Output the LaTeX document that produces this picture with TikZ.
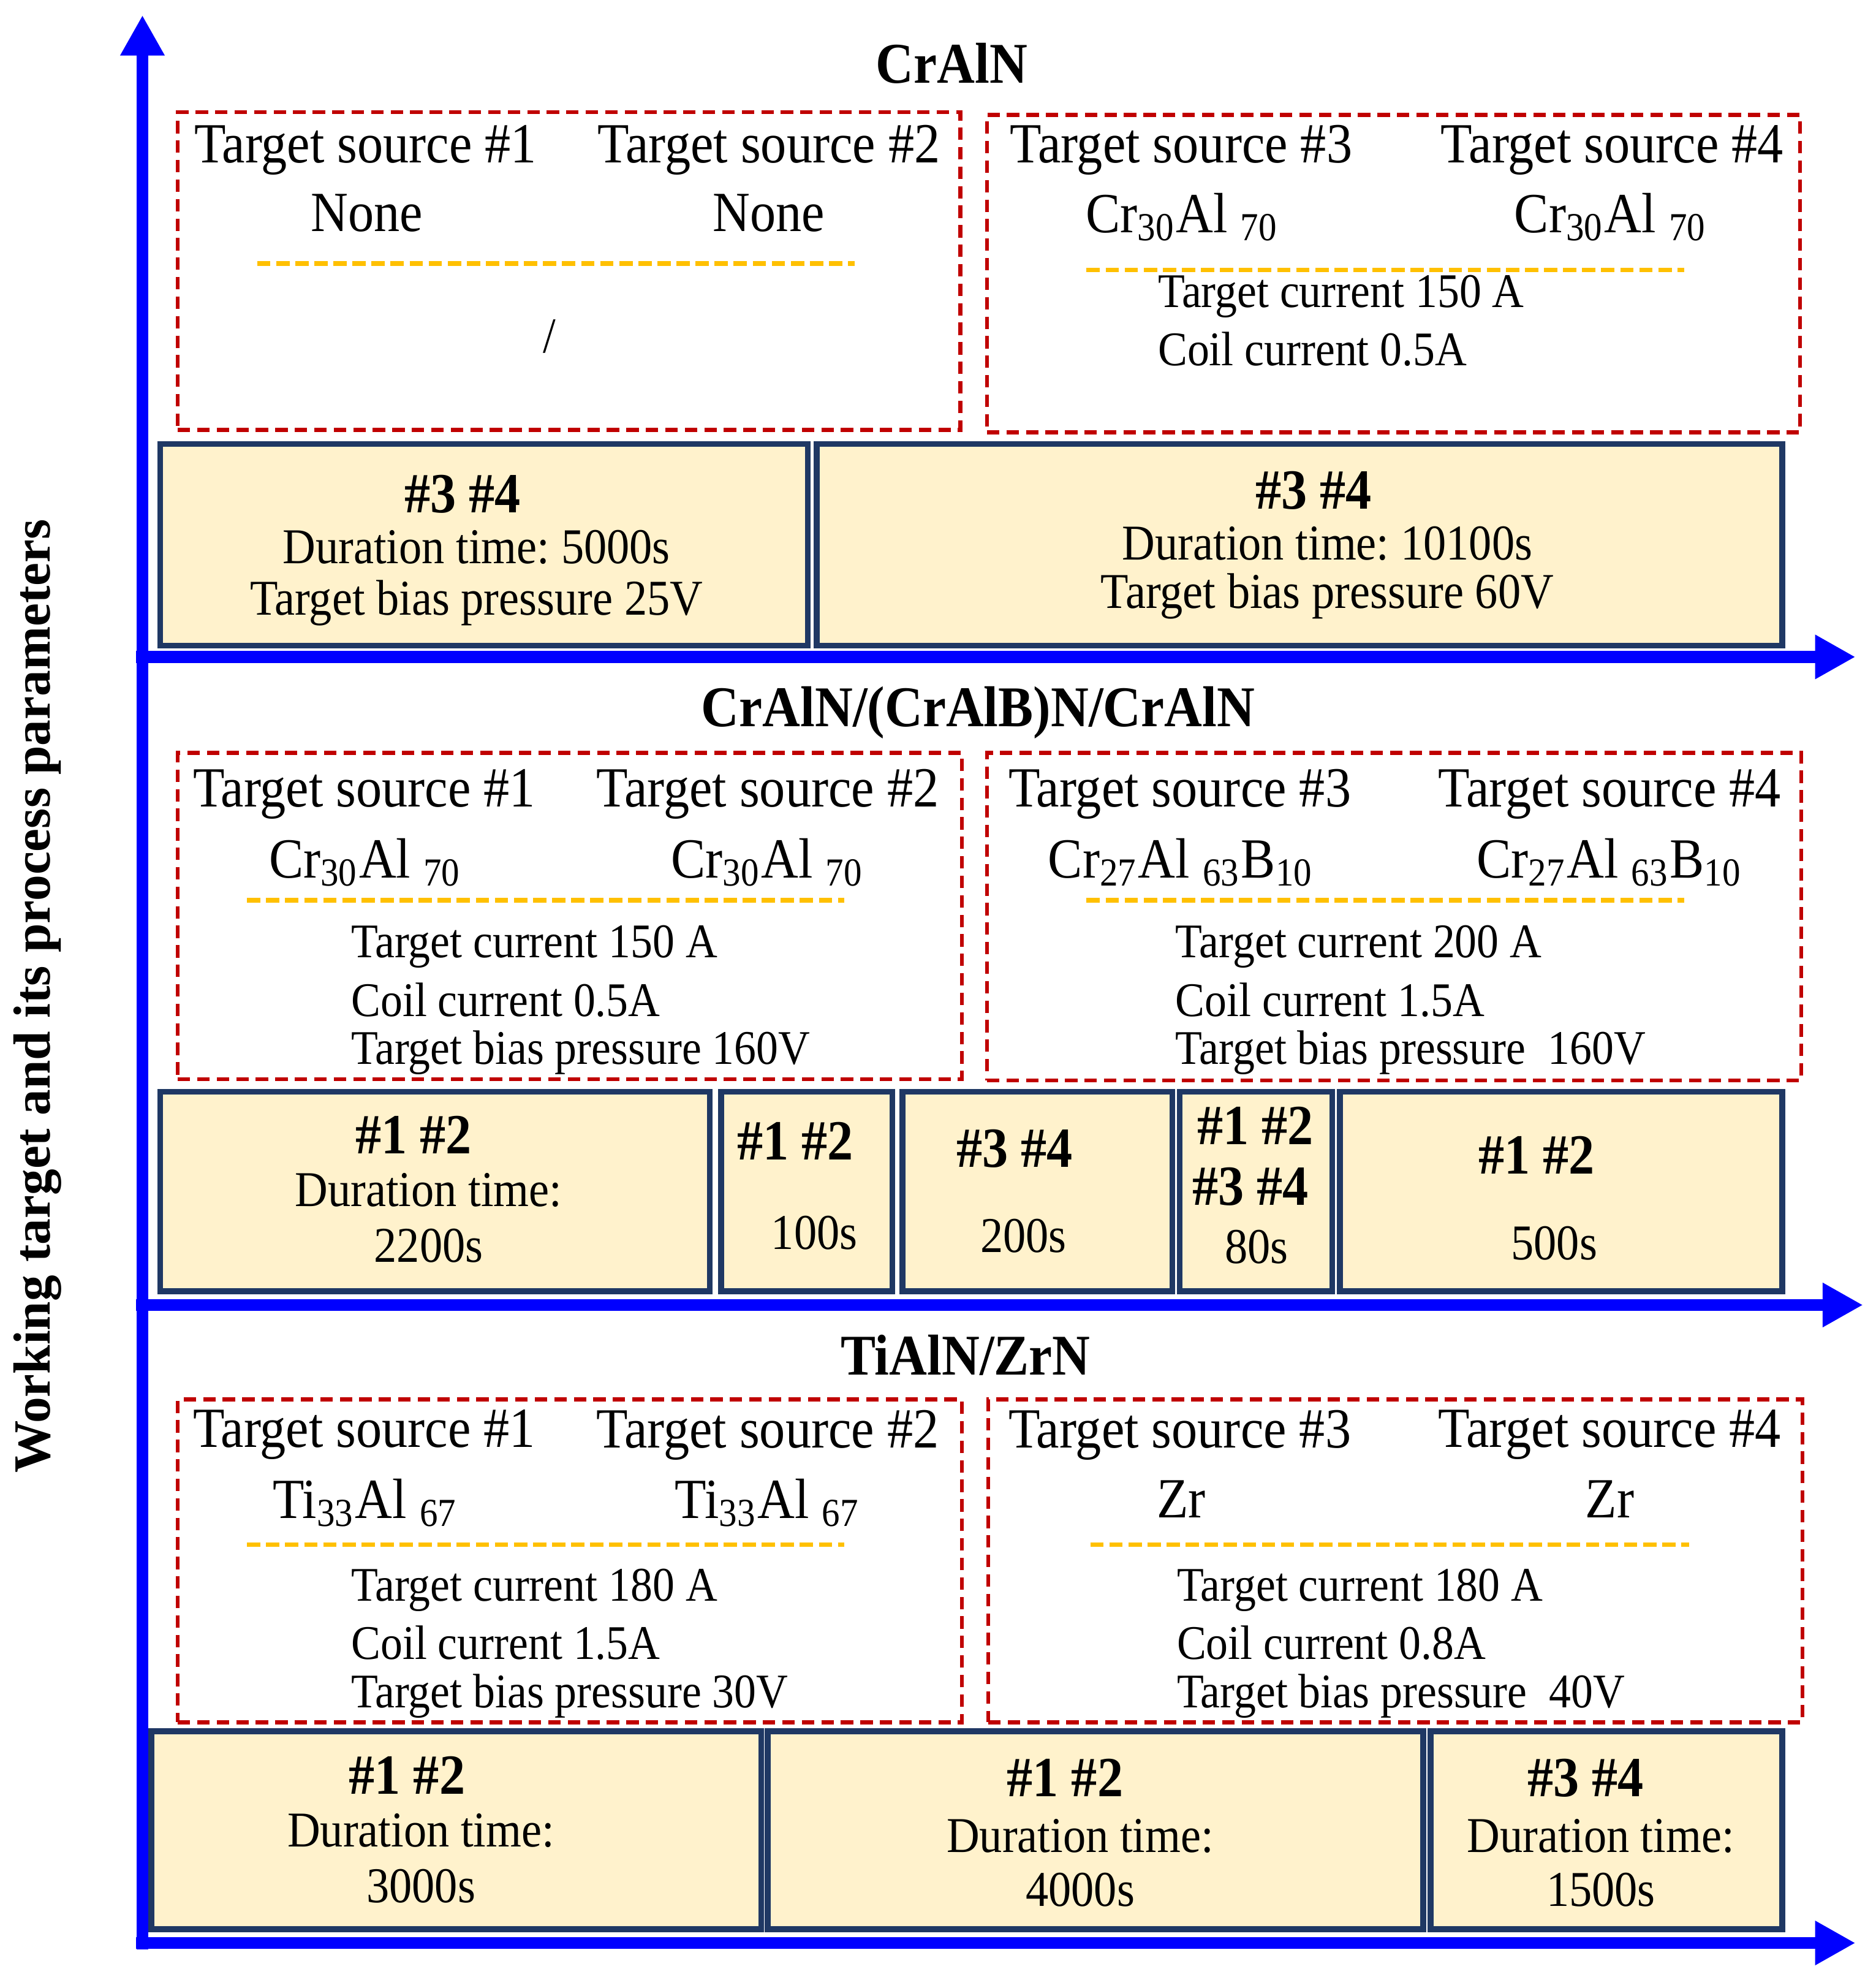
\documentclass[tikz,border=0pt]{standalone}
\usepackage{fontspec}
\setmainfont{Liberation Serif}[FakeStretch=0.91]
\newfontfamily\axislabelfont{Liberation Serif}
\usetikzlibrary{positioning,arrows.meta,fit}
\definecolor{axisblue}{RGB}{0,0,255}
\definecolor{boxred}{RGB}{192,0,0}
\definecolor{lineyellow}{RGB}{255,192,0}
\definecolor{boxfill}{RGB}{255,242,204}
\definecolor{boxedge}{RGB}{31,56,100}
\frenchspacing

\begin{document}
\begin{tikzpicture}[x=0.01cm, y=-0.01cm,
    axis/.style={draw=axisblue, line width=2.7pt, -{Triangle[length=0.32cm, width=0.33cm]}},
    redbox/.style={draw=boxred, line width=0.9pt, dash pattern=on 2.8pt off 1.6pt, inner sep=0pt},
    yelline/.style={draw=lineyellow, line width=1pt, dash pattern=on 3pt off 1.3pt},
    timebox/.style={draw=boxedge, fill=boxfill, line width=1.3pt, inner sep=0pt},
    srctext/.style={font=\fontsize{12.8}{15}\selectfont, inner sep=0pt},
    partext/.style={font=\fontsize{10.9}{13}\selectfont, anchor=west, inner sep=0pt},
    durtext/.style={font=\fontsize{11.3}{13}\selectfont, inner sep=0pt},
    hashtext/.style={font=\fontsize{12.8}{15}\selectfont\bfseries, inner sep=0pt},
    titletext/.style={font=\fontsize{13}{15}\selectfont\bfseries, inner sep=0pt}]
  \useasboundingbox (0,0) rectangle (1488,1568);

  % axis label
  \node[font=\axislabelfont\fontsize{11.8}{14}\selectfont\bfseries, rotate=90, inner sep=0pt]
    (ylabel) at (30,790) {Working target and its process parameters};

  % ---- CrAlN ----
  \node[titletext] (crTitle) at (755,50) {CrAlN};
  \node[redbox, fit={(141,89) (762,341)}] (crSrcL) {};
  \node[redbox, fit={(783,91) (1428,343)}] (crSrcR) {};
  \node[srctext] (crT1) at (290,119) {Target source \#1};
  \node[srctext] (crT2) at (610,119) {Target source \#2};
  \node[srctext] (crM1) at (291,169) {None};
  \node[srctext] (crM2) at (610,169) {None};
  \coordinate (crLineLa) at (204,209);
  \coordinate (crLineLb) at (678,209);
  \draw[yelline] (crLineLa) -- (crLineLb);
  \node[durtext] (crNone) at (436,267) {/};
  \node[srctext] (crT3) at (937,119) {Target source \#3};
  \node[srctext] (crT4) at (1279,119) {Target source \#4};
  \node[srctext] (crM3) at (938,172) {Cr\textsubscript{30}Al \textsubscript{70}};
  \node[srctext] (crM4) at (1278,172) {Cr\textsubscript{30}Al \textsubscript{70}};
  \coordinate (crLineRa) at (862,214);
  \coordinate (crLineRb) at (1336,214);
  \draw[yelline] (crLineRa) -- (crLineRb);
  \node[partext] (crP1) at (918,235) {Target current 150 A};
  \node[partext] (crP2) at (918,277) {Coil current 0.5A};

  \node[timebox, fit={(127,352) (641,512)}] (crTimeA) {};
  \node[timebox, fit={(648,352) (1414,512)}] (crTimeB) {};
  \node[hashtext] (crA1) at (367,392) {\#3 \#4};
  \node[durtext] (crA2) at (378,434) {Duration time: 5000s};
  \node[durtext] (crA3) at (378,478) {Target bias pressure 25V};
  \node[hashtext] (crB1) at (1042,389) {\#3 \#4};
  \node[durtext] (crB2) at (1053,431) {Duration time: 10100s};
  \node[durtext] (crB3) at (1053,473) {Target bias pressure 60V};

  % ---- CrAlN/(CrAlB)N/CrAlN ----
  \node[titletext] (cbTitle) at (776,565) {CrAlN/(CrAlB)N/CrAlN};
  \node[redbox, fit={(141,597) (763,856)}] (cbSrcL) {};
  \node[redbox, fit={(783,597) (1429,857)}] (cbSrcR) {};
  \node[srctext] (cbT1) at (289,630) {Target source \#1};
  \node[srctext] (cbT2) at (609,630) {Target source \#2};
  \node[srctext] (cbM1) at (290,684) {Cr\textsubscript{30}Al \textsubscript{70}};
  \node[srctext] (cbM2) at (609,684) {Cr\textsubscript{30}Al \textsubscript{70}};
  \coordinate (cbLineLa) at (196,714);
  \coordinate (cbLineLb) at (670,714);
  \draw[yelline] (cbLineLa) -- (cbLineLb);
  \node[partext] (cbP1) at (278,751) {Target current 150 A};
  \node[partext] (cbP2) at (278,793) {Coil current 0.5A};
  \node[partext] (cbP3) at (278,835) {Target bias pressure 160V};
  \node[srctext] (cbT3) at (936,630) {Target source \#3};
  \node[srctext] (cbT4) at (1277,630) {Target source \#4};
  \node[srctext] (cbM3) at (937,684) {Cr\textsubscript{27}Al \textsubscript{63}B\textsubscript{10}};
  \node[srctext] (cbM4) at (1277,684) {Cr\textsubscript{27}Al \textsubscript{63}B\textsubscript{10}};
  \coordinate (cbLineRa) at (862,714);
  \coordinate (cbLineRb) at (1336,714);
  \draw[yelline] (cbLineRa) -- (cbLineRb);
  \node[partext] (cbP4) at (932,751) {Target current 200 A};
  \node[partext] (cbP5) at (932,793) {Coil current 1.5A};
  \node[partext] (cbP6) at (932,835) {Target bias pressure \ 160V};

  \node[timebox, fit={(127,866) (563,1024)}] (cbTimeA) {};
  \node[timebox, fit={(572,866) (708,1024)}] (cbTimeB) {};
  \node[timebox, fit={(716,866) (930,1024)}] (cbTimeC) {};
  \node[timebox, fit={(936,866) (1057,1024)}] (cbTimeD) {};
  \node[timebox, fit={(1063,866) (1414,1024)}] (cbTimeE) {};
  \node[hashtext] (cbA1) at (328,900) {\#1 \#2};
  \node[durtext] (cbA2) at (340,944) {Duration time:};
  \node[durtext] (cbA3) at (340,988) {2200s};
  \node[hashtext] (cbB1) at (631,905) {\#1 \#2};
  \node[durtext] (cbB2) at (646,978) {100s};
  \node[hashtext] (cbC1) at (805,911) {\#3 \#4};
  \node[durtext] (cbC2) at (812,980) {200s};
  \node[hashtext] (cbD1) at (996,893) {\#1 \#2};
  \node[hashtext] (cbD2) at (992,941) {\#3 \#4};
  \node[durtext] (cbD3) at (997,989) {80s};
  \node[hashtext] (cbE1) at (1219,916) {\#1 \#2};
  \node[durtext] (cbE2) at (1233,986) {500s};

  % ---- TiAlN/ZrN ----
  \node[titletext] (tzTitle) at (766,1075) {TiAlN/ZrN};
  \node[redbox, fit={(141,1110) (763,1366)}] (tzSrcL) {};
  \node[redbox, fit={(784,1110) (1430,1366)}] (tzSrcR) {};
  \node[srctext] (tzT1) at (289,1138) {Target source \#1};
  \node[srctext] (tzT2) at (609,1138) {Target source \#2};
  \node[srctext] (tzM1) at (290,1192) {Ti\textsubscript{33}Al \textsubscript{67}};
  \node[srctext] (tzM2) at (609,1192) {Ti\textsubscript{33}Al \textsubscript{67}};
  \coordinate (tzLineLa) at (196,1225);
  \coordinate (tzLineLb) at (670,1225);
  \draw[yelline] (tzLineLa) -- (tzLineLb);
  \node[partext] (tzP1) at (278,1261) {Target current 180 A};
  \node[partext] (tzP2) at (278,1303) {Coil current 1.5A};
  \node[partext] (tzP3) at (278,1345) {Target bias pressure 30V};
  \node[srctext] (tzT3) at (936,1138) {Target source \#3};
  \node[srctext] (tzT4) at (1277,1138) {Target source \#4};
  \node[srctext] (tzM3) at (937,1189) {Zr};
  \node[srctext] (tzM4) at (1277,1189) {Zr};
  \coordinate (tzLineRa) at (865,1225);
  \coordinate (tzLineRb) at (1340,1225);
  \draw[yelline] (tzLineRa) -- (tzLineRb);
  \node[partext] (tzP4) at (933,1261) {Target current 180 A};
  \node[partext] (tzP5) at (933,1303) {Coil current 0.8A};
  \node[partext] (tzP6) at (933,1345) {Target bias pressure \ 40V};

  \node[timebox, fit={(120,1373) (604,1530)}] (tzTimeA) {};
  \node[timebox, fit={(609,1373) (1129,1530)}] (tzTimeB) {};
  \node[timebox, fit={(1135,1373) (1414,1530)}] (tzTimeC) {};
  \node[hashtext] (tzA1) at (323,1408) {\#1 \#2};
  \node[durtext] (tzA2) at (334,1452) {Duration time:};
  \node[durtext] (tzA3) at (334,1496) {3000s};
  \node[hashtext] (tzB1) at (845,1410) {\#1 \#2};
  \node[durtext] (tzB2) at (857,1456) {Duration time:};
  \node[durtext] (tzB3) at (857,1499) {4000s};
  \node[hashtext] (tzC1) at (1258,1410) {\#3 \#4};
  \node[durtext] (tzC2) at (1270,1456) {Duration time:};
  \node[durtext] (tzC3) at (1270,1499) {1500s};

  % axes
  \coordinate (yBase) at (113,1546);
  \coordinate (yTip) at (113,12);
  \coordinate (xOneA) at (108,521);
  \coordinate (xOneB) at (1472,521);
  \coordinate (xTwoA) at (108,1035);
  \coordinate (xTwoB) at (1478,1035);
  \coordinate (xThreeA) at (108,1541);
  \coordinate (xThreeB) at (1472,1541);
  \draw[axis] (yBase) -- (yTip);
  \draw[axis] (xOneA) -- (xOneB);
  \draw[axis] (xTwoA) -- (xTwoB);
  \draw[axis] (xThreeA) -- (xThreeB);
\end{tikzpicture}
\end{document}
